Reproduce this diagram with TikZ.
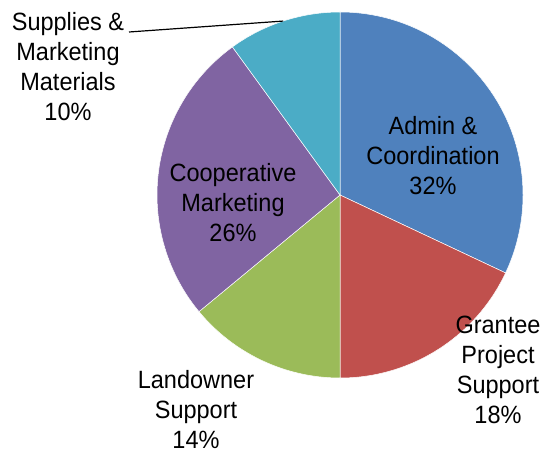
\documentclass[tikz,border=0pt]{standalone}
\usepackage{fontspec}
\setmainfont{Liberation Sans}[FakeStretch=0.94]
\usetikzlibrary{calc,positioning}
\definecolor{admin}{HTML}{4F81BD}
\definecolor{grantee}{HTML}{C0504D}
\definecolor{landowner}{HTML}{9BBB59}
\definecolor{coop}{HTML}{8064A2}
\definecolor{supplies}{HTML}{4BACC6}
\tikzset{
  slice label/.style={align=center, inner sep=0pt, font=\fontsize{25pt}{30pt}\selectfont},
  slice edge/.style={draw=white, line width=0.5pt}
}
\begin{document}
\begin{tikzpicture}[x=1pt,y=1pt]
\useasboundingbox (0,0) rectangle (543,453);
%\draw [help lines] (0,0) grid[step=50] (543,453);
\coordinate (O) at (340,258);
\foreach \a/\b/\c in {90/-25.2/admin, -25.2/-90/grantee, -90/-140.4/landowner, -140.4/-234/coop, -234/-270/supplies}
  \filldraw[slice edge, fill=\c] (O) -- ++(\a:183pt) arc[start angle=\a, end angle=\b, radius=183pt] -- cycle;
\node[slice label] (admin) at (433,297) {Admin \&\\Coordination\\32\%};
\node[slice label] (grantee) at (498,83) {Grantee\\Project\\Support\\18\%};
\node[slice label] (landowner) at (196,43) {Landowner\\Support\\14\%};
\node[slice label] (coop) at (233,250) {Cooperative\\Marketing\\26\%};
\node[slice label] (supplies) at (68,386) {Supplies \&\\Marketing\\Materials\\10\%};
\coordinate (lead) at (129,421);
\coordinate (rim) at ($(O)+(108.1:183pt)$);
\draw[line width=1.2pt] (lead) -- (rim);
\end{tikzpicture}
\end{document}
